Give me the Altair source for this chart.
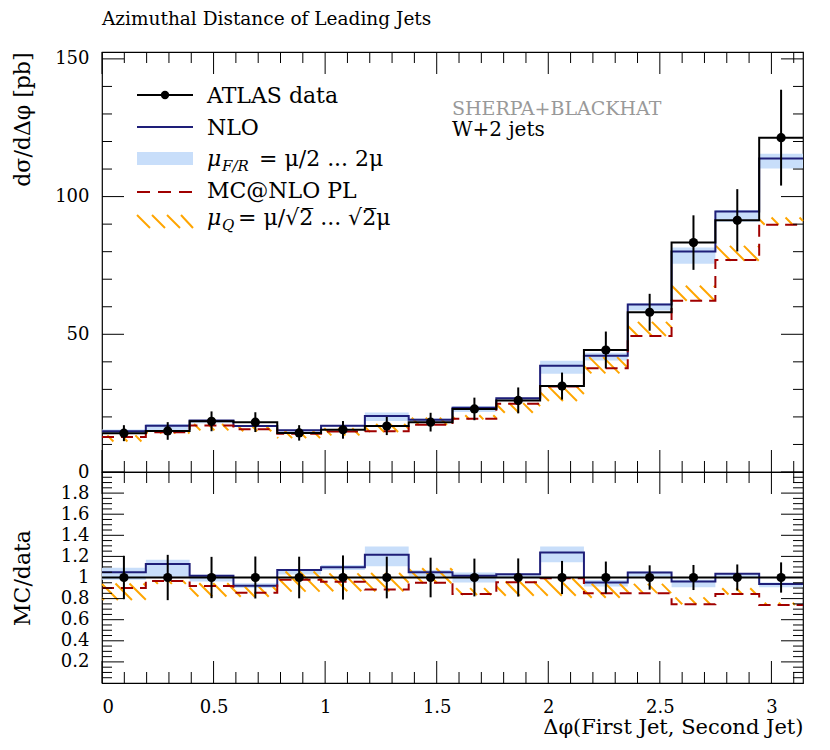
import altair as alt
import numpy as np
import pandas as pd

# ---------------- data ----------------
edges = [0.0, 0.19635, 0.39270, 0.58905, 0.78540, 0.98175, 1.17810, 1.37445,
         1.57080, 1.76715, 1.96350, 2.15984, 2.35619, 2.55254, 2.74889, 2.94524, 3.14159]
data_val = [14.1, 14.9, 18.4, 18.1, 14.2, 15.3, 16.7, 18.1, 22.9, 26.0, 31.2, 44.3, 58.0, 83.3, 91.4, 121.4]
data_err = [2.9, 3.2, 3.6, 3.6, 2.8, 3.2, 3.3, 3.4, 4.1, 4.7, 4.9, 6.7, 6.7, 9.9, 11.3, 17.4]
nlo = [14.8, 16.8, 18.7, 16.7, 15.2, 16.8, 20.3, 19.0, 23.3, 26.8, 38.6, 42.2, 60.8, 80.1, 94.6, 113.8]
nlo_lo = [13.8, 15.0, 17.7, 16.3, 14.6, 16.4, 18.5, 18.3, 21.8, 25.8, 35.7, 40.5, 58.6, 75.6, 90.9, 110.2]
nlo_hi = [15.4, 17.4, 18.9, 17.1, 15.3, 17.1, 21.6, 19.4, 24.0, 27.0, 40.4, 43.3, 61.3, 81.5, 95.1, 115.6]
mc = [12.7, 14.4, 16.9, 15.5, 13.9, 14.7, 14.8, 17.2, 19.3, 24.8, 31.0, 37.7, 49.4, 62.2, 77.0, 89.8]
mc_lo = [11.1, 14.0, 15.1, 14.8, 12.3, 13.3, 14.5, 17.1, 19.1, 21.5, 25.8, 35.8, 49.4, 62.2, 76.7, 89.8]
mc_hi = [13.3, 14.5, 17.4, 16.5, 15.0, 15.9, 17.4, 19.7, 20.6, 25.0, 31.0, 41.7, 54.5, 67.6, 82.1, 92.4]

x_major = [0, 0.5, 1, 1.5, 2, 2.5, 3]
x_minor = [0.1, 0.2, 0.3, 0.4, 0.6, 0.7, 0.8, 0.9, 1.1, 1.2, 1.3, 1.4, 1.6, 1.7, 1.8, 1.9,
           2.1, 2.2, 2.3, 2.4, 2.6, 2.7, 2.8, 2.9, 3.1]
top_y_major = [0, 50, 100, 150]
top_y_minor = [10, 20, 30, 40, 60, 70, 80, 90, 110, 120, 130, 140]
ratio_y_major = [0.2, 0.4, 0.6, 0.8, 1.0, 1.2, 1.4, 1.6, 1.8]
ratio_y_minor = [round(0.05 * i, 2) for i in range(1, 40) if i % 4 != 0]

title_text = "Azimuthal Distance of Leading Jets"
x_title = "Δφ(First Jet, Second Jet)"
y_title_top = "dσ/dΔφ [pb]"
y_title_ratio = "MC/data"
legend_labels = ["ATLAS data", "NLO", "MC@NLO PL"]
generator_text = "SHERPA+BLACKHAT"
process_text = "W+2 jets"

# ---------------- styling ----------------
W, H1, H2 = 701, 420, 211
XMAX = 3.14159
YMAX1 = 152.5
YMAX2 = 2.0
FONT = "DejaVu Serif"
C_BAND = "#c8defa"
C_NLO = "#1e1e78"
C_MC = "#a00000"
C_HATCH = "#ffa500"

x0 = edges[:-1]
x1 = edges[1:]
xc = [(a + b) / 2 for a, b in zip(x0, x1)]


def steps(vals):
    rows = []
    for i, v in enumerate(vals):
        rows.append({"x": x0[i], "y": v, "o": 2 * i})
        rows.append({"x": x1[i], "y": v, "o": 2 * i + 1})
    return pd.DataFrame(rows)


def hatch(lo, hi, ymax, H, spacing=14.0):
    sx = W / XMAX
    sy = H / ymax
    rows = []
    for a, b, l, h in zip(x0, x1, lo, hi):
        X0, X1 = a * sx, b * sx
        Yt, Yb = (ymax - h) * sy, (ymax - l) * sy
        kmin = int(np.floor((Yt - X1) / spacing))
        kmax = int(np.ceil((Yb - X0) / spacing))
        for kk in range(kmin, kmax + 1):
            k = kk * spacing
            xa = max(X0, Yt - k)
            xb = min(X1, Yb - k)
            if xb - xa > 0.8:
                rows.append({"x": xa / sx, "x2": xb / sx,
                             "y": ymax - (xa + k) / sy, "y2": ymax - (xb + k) / sy})
    return pd.DataFrame(rows)


def panel(H, ymax, dval, derr, nv, nlo_l, nlo_h, mv, mc_l, mc_h,
          y_axis, x_axis, y_major, y_minor, extra=()):
    xs = alt.Scale(domain=[0, XMAX], nice=False, zero=False)
    ys = alt.Scale(domain=[0, ymax], nice=False, zero=False)

    def X(f):
        return alt.X(f, type="quantitative", scale=xs, axis=x_axis)

    def Y(f):
        return alt.Y(f, type="quantitative", scale=ys, axis=y_axis)

    band_df = pd.DataFrame({"x0": x0, "x1": x1, "lo": nlo_l, "hi": nlo_h})
    band = alt.Chart(band_df).mark_rect(color=C_BAND, opacity=1).encode(
        x=X("x0"), x2=alt.X2("x1"), y=Y("lo"), y2=alt.Y2("hi"))

    hdf = hatch(mc_l, mc_h, ymax, H)
    hat = alt.Chart(hdf).mark_rule(color=C_HATCH, strokeWidth=2).encode(
        x=X("x"), x2=alt.X2("x2"), y=Y("y"), y2=alt.Y2("y2"))

    nlo_line = alt.Chart(steps(nv)).mark_line(color=C_NLO, strokeWidth=2).encode(
        x=X("x"), y=Y("y"), order="o:Q")
    mc_line = alt.Chart(steps(mv)).mark_line(color=C_MC, strokeWidth=2, strokeDash=[12, 7]).encode(
        x=X("x"), y=Y("y"), order="o:Q")
    data_line = alt.Chart(steps(dval)).mark_line(color="black", strokeWidth=2).encode(
        x=X("x"), y=Y("y"), order="o:Q")

    pts_df = pd.DataFrame({"x": xc, "y": dval,
                           "lo": [v - e for v, e in zip(dval, derr)],
                           "hi": [v + e for v, e in zip(dval, derr)]})
    errs = alt.Chart(pts_df).mark_rule(color="black", strokeWidth=2).encode(
        x=X("x"), y=Y("lo"), y2=alt.Y2("hi"))
    pts = alt.Chart(pts_df).mark_circle(color="black", size=85, opacity=1).encode(
        x=X("x"), y=Y("y"))

    ticks = []
    for vals, L in [(x_major, 22), (x_minor, 11)]:
        df = pd.DataFrame({"v": vals})
        ticks.append(alt.Chart(df).mark_rule(color="black", strokeWidth=1).encode(
            x=X("v"), y=alt.value(0), y2=alt.value(L)))
        ticks.append(alt.Chart(df).mark_rule(color="black", strokeWidth=1).encode(
            x=X("v"), y=alt.value(H), y2=alt.value(H - L)))
    for vals, L in [(y_major, 22), (y_minor, 10)]:
        df = pd.DataFrame({"v": vals})
        ticks.append(alt.Chart(df).mark_rule(color="black", strokeWidth=1).encode(
            y=Y("v"), x=alt.value(0), x2=alt.value(L)))
        ticks.append(alt.Chart(df).mark_rule(color="black", strokeWidth=1).encode(
            y=Y("v"), x=alt.value(W), x2=alt.value(W - L)))

    layers = [band, hat, nlo_line, mc_line, data_line, errs, pts] + ticks + list(extra)
    return alt.layer(*layers).properties(width=W, height=H)


one = pd.DataFrame({"k": [0]})


def txt(s, x, y, size=22, color="black", style="normal", align="left", baseline="alphabetic"):
    return alt.Chart(one).mark_text(text=s, font=FONT, fontSize=size, color=color,
                                    fontStyle=style, align=align, baseline=baseline).encode(
        x=alt.value(x), y=alt.value(y))


def hrule(xa, xb, y, color, width=2, dash=None):
    kw = dict(color=color, strokeWidth=width)
    if dash:
        kw["strokeDash"] = dash
    return alt.Chart(one).mark_rule(**kw).encode(x=alt.value(xa), x2=alt.value(xb), y=alt.value(y))


# ---------------- legend & labels (top panel) ----------------
leg = []
LX0, LX1, TX = 35, 91, 105
# ATLAS data
leg.append(hrule(LX0, LX1, 43, "black"))
leg.append(alt.Chart(one).mark_circle(color="black", size=70, opacity=1).encode(
    x=alt.value((LX0 + LX1) / 2), y=alt.value(43)))
leg.append(txt(legend_labels[0], TX, 51))
# NLO
leg.append(hrule(LX0, LX1, 75, C_NLO))
leg.append(txt(legend_labels[1], TX, 82.5))
# band
leg.append(alt.Chart(one).mark_rect(color=C_BAND, opacity=1).encode(
    x=alt.value(LX0), x2=alt.value(LX1), y=alt.value(100), y2=alt.value(113)))
leg.append(txt("μ", TX, 114, style="italic"))
leg.append(txt("F/R", TX + 15, 119, size=15, style="italic"))
leg.append(txt("= μ/2 ... 2μ", TX + 52, 114))
# MC@NLO
leg.append(hrule(LX0, LX1, 140, C_MC, dash=[13, 8]))
leg.append(txt(legend_labels[2], TX, 146))
# hatch swatch
for hx in [LX0, LX0 + 15, LX0 + 30, LX0 + 44]:
    leg.append(alt.Chart(one).mark_rule(color=C_HATCH, strokeWidth=2).encode(
        x=alt.value(hx), x2=alt.value(min(hx + 13, LX1)), y=alt.value(163), y2=alt.value(176)))
leg.append(txt("μ", TX, 172.5, style="italic"))
leg.append(txt("Q", TX + 15, 177.5, size=15, style="italic"))
leg.append(txt("= μ/√2̅ ... √2̅μ", TX + 31, 172.5))

leg.append(txt(generator_text, 350, 63, size=19, color="#999999"))
leg.append(txt(process_text, 350, 84, size=20))

# ---------------- axes ----------------
top_y_axis = alt.Axis(values=top_y_major, format=".0f", labelFont=FONT, labelFontSize=18,
                      labelPadding=13, labelColor="black", ticks=False, domain=False, grid=False,
                      title=y_title_top, titleFont=FONT, titleFontSize=22, titleFontWeight="normal",
                      titleColor="black", titleAngle=270, titleX=-80, titleY=0,
                      titleAlign="right", titleBaseline="middle")
ratio_y_axis = alt.Axis(values=ratio_y_major, format="~g", labelFont=FONT, labelFontSize=18,
                        labelPadding=13, labelColor="black", ticks=False, domain=False, grid=False,
                        title=y_title_ratio, titleFont=FONT, titleFontSize=22, titleFontWeight="normal",
                        titleColor="black", titleAngle=270, titleX=-80, titleY=H2 / 2,
                        titleAlign="center", titleBaseline="middle")
ratio_x_axis = alt.Axis(values=x_major, format="~g", labelFont=FONT, labelFontSize=18,
                        labelPadding=15, labelColor="black", ticks=False, domain=False, grid=False,
                        title=x_title, titleFont=FONT, titleFontSize=21, titleFontWeight="normal",
                        titleColor="black", titleX=W, titleY=50, titleAlign="right",
                        titleBaseline="alphabetic")

top = panel(H1, YMAX1, data_val, data_err, nlo, nlo_lo, nlo_hi, mc, mc_lo, mc_hi,
            top_y_axis, None, top_y_major, top_y_minor, extra=leg).properties(
    title=alt.TitleParams(text=title_text, anchor="start", frame="group", font=FONT,
                          fontSize=18.5, fontWeight="normal", color="black", offset=21))


def rat(vals):
    return [v / d for v, d in zip(vals, data_val)]


bottom = panel(H2, YMAX2, [1.0] * len(data_val), rat(data_err), rat(nlo), rat(nlo_lo), rat(nlo_hi),
               rat(mc), rat(mc_lo), rat(mc_hi), ratio_y_axis, ratio_x_axis,
               ratio_y_major, ratio_y_minor)

chart = alt.vconcat(top, bottom, spacing=0, bounds="flush").properties(
    padding={"left": 2, "top": 1, "right": 10, "bottom": 5}
).configure_view(stroke="black", strokeWidth=1.2).configure_title(
    font=FONT, fontSize=18.5, fontWeight="normal", anchor="start", color="black")

chart.save("out.html", embed_options={"renderer": "svg", "actions": False})
